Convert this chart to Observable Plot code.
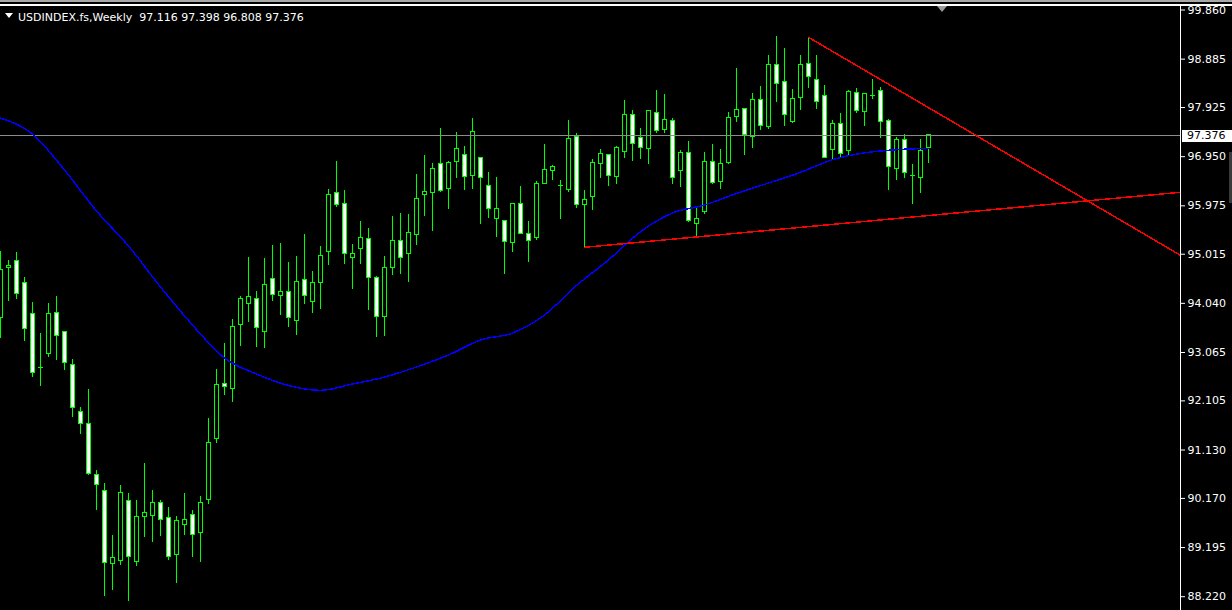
<!DOCTYPE html>
<html><head><meta charset="utf-8">
<script src="https://cdn.jsdelivr.net/npm/d3@7"></script>
<script src="https://cdn.jsdelivr.net/npm/@observablehq/plot@0.6"></script>
<style>
html,body{margin:0;padding:0;background:#000;overflow:hidden;}
#wrap{position:relative;width:1232px;height:610px;background:#000;overflow:hidden;}
#chart{position:absolute;left:0;top:0;}
.ov{position:absolute;}
#hdr{left:18px;top:11px;font:11px/13px "DejaVu Sans";color:#fff;white-space:pre;}
#hdrTri{left:5px;top:13px;width:0;height:0;border-left:4px solid transparent;border-right:4px solid transparent;border-top:5px solid #fff;}
#plabel{left:1182px;width:50px;height:12px;background:#fff;color:#000;font:11px/12px "DejaVu Sans";}
#plabel span{position:absolute;left:5px;top:0;}
</style></head><body>
<div id="wrap">
  <div id="chart"></div>
  <div class="ov" style="left:0;top:0;width:1232px;height:2px;background:#a8a8a8;"></div>
  <div class="ov" style="left:0;top:4px;width:1232px;height:2px;background:#fff;"></div>
  <div class="ov" style="left:1180px;top:4px;width:1px;height:606px;background:#fff;"></div>
  <div class="ov" style="left:937px;top:6px;width:0;height:0;border-left:5px solid transparent;border-right:5px solid transparent;border-top:6px solid #9a9a9a;"></div>
  <div class="ov" style="left:1229px;top:152px;width:3px;height:51px;background:#3a3a3a;"></div>
  <div class="ov" id="hdrTri"></div>
  <div class="ov" id="hdr"></div>
  <div class="ov" id="plabel"><span></span></div>
</div>
<script>
const symbol = "USDINDEX.fs";
const timeframe = "Weekly";

const opens = [
93.743, 94.735, 94.880, 94.443, 93.828, 92.771, 93.041, 93.848, 93.471, 92.816,
91.884, 91.646, 90.628, 90.317, 88.874, 88.934, 90.118, 88.914, 89.807, 89.830,
90.073, 89.775, 89.041, 89.636, 89.834, 89.477, 90.132, 91.342, 92.433, 92.334,
93.604, 94.021, 94.120, 93.465, 94.517, 94.179, 94.259, 93.683, 94.497, 94.060,
94.437, 95.052, 96.223, 96.005, 94.933, 95.112, 95.310, 94.536, 93.763, 94.735,
95.270, 95.013, 95.390, 96.183, 96.223, 96.798, 96.302, 96.838, 96.977, 96.560,
96.917, 96.362, 95.707, 95.667, 95.231, 96.005, 95.409, 95.330, 96.413, 96.659,
96.374, 96.282, 97.334, 95.985, 96.144, 96.798, 96.977, 96.540, 97.036, 97.770,
97.314, 97.096, 97.810, 97.473, 97.651, 96.659, 97.022, 95.608, 95.858, 96.838,
96.441, 96.830, 97.731, 97.890, 97.334, 98.068, 97.532, 98.762, 98.425, 97.632,
98.108, 98.782, 98.465, 98.147, 97.076, 97.592, 97.056, 98.207, 97.830, 98.173,
98.247, 97.651, 96.699, 97.275, 96.572, 96.533, 97.116
];
const highs = [
95.064, 94.900, 95.052, 94.548, 94.066, 93.451, 94.046, 94.185, 93.491, 92.935,
91.983, 92.340, 90.733, 90.475, 89.444, 90.436, 90.277, 90.138, 90.872, 90.336,
90.138, 89.999, 89.821, 90.277, 89.940, 90.217, 91.765, 92.737, 93.253, 93.729,
94.166, 94.959, 94.285, 94.939, 95.197, 95.237, 94.860, 94.979, 95.415, 94.681,
95.177, 96.308, 96.864, 96.288, 95.217, 95.673, 95.534, 94.568, 94.979, 95.773,
95.832, 95.812, 96.606, 96.983, 96.824, 97.518, 96.864, 97.439, 97.161, 97.717,
96.917, 96.640, 96.546, 95.667, 96.025, 96.368, 95.673, 96.461, 97.201, 96.779,
96.487, 97.677, 97.419, 96.282, 96.903, 97.102, 97.003, 97.161, 98.074, 97.876,
97.518, 97.876, 98.272, 98.193, 97.711, 97.082, 97.255, 95.925, 97.036, 97.195,
97.096, 97.830, 98.709, 97.890, 98.213, 98.352, 98.967, 99.344, 99.106, 98.286,
98.967, 99.318, 98.967, 98.366, 97.677, 97.810, 98.259, 98.306, 98.207, 98.485,
98.326, 97.691, 97.334, 97.393, 96.790, 97.300, 97.398
];
const lows = [
93.346, 94.086, 94.126, 93.278, 92.564, 92.386, 92.961, 92.902, 92.717, 91.771,
91.433, 90.634, 89.926, 88.219, 88.339, 88.835, 88.120, 88.815, 89.390, 89.291,
89.410, 88.934, 88.477, 89.430, 88.993, 88.894, 90.045, 91.255, 92.207, 92.068,
93.179, 93.656, 93.160, 93.140, 94.072, 93.795, 93.556, 93.398, 94.013, 93.834,
93.914, 94.787, 95.937, 94.806, 94.310, 94.806, 93.894, 93.358, 93.378, 94.588,
94.608, 94.449, 95.183, 95.759, 95.461, 96.235, 95.898, 96.513, 96.275, 96.294,
95.600, 95.719, 95.342, 94.608, 95.044, 95.409, 94.846, 95.282, 96.394, 96.473,
95.699, 96.235, 95.917, 95.152, 95.878, 96.513, 96.354, 96.394, 96.917, 96.850,
96.890, 96.790, 97.405, 97.405, 96.394, 96.334, 95.640, 95.350, 95.798, 96.394,
96.294, 96.790, 97.624, 96.969, 97.108, 97.465, 97.493, 98.028, 97.552, 97.604,
97.870, 98.306, 97.890, 96.909, 96.876, 96.931, 96.957, 97.816, 97.545, 98.088,
97.314, 96.275, 96.473, 96.513, 95.997, 96.215, 96.808
];
const closes = [
94.701, 94.775, 94.219, 93.537, 92.664, 92.771, 93.828, 93.398, 92.862, 91.969,
91.652, 90.660, 90.430, 88.894, 88.987, 90.271, 89.013, 89.801, 89.874, 90.073,
89.735, 89.001, 89.721, 89.741, 89.438, 90.073, 91.263, 92.414, 92.374, 93.564,
94.120, 94.160, 93.544, 94.398, 94.199, 94.259, 93.743, 94.457, 94.179, 94.437,
94.973, 96.183, 95.985, 95.013, 95.013, 95.330, 94.536, 93.763, 94.735, 95.270,
94.933, 95.429, 96.104, 96.243, 96.699, 96.275, 96.818, 97.096, 96.540, 97.433,
96.533, 95.905, 95.905, 95.251, 96.005, 95.409, 95.270, 96.401, 96.679, 96.739,
96.374, 97.294, 95.985, 96.084, 96.818, 96.997, 96.560, 97.116, 97.770, 97.195,
97.116, 97.856, 97.453, 97.671, 96.533, 97.022, 95.679, 95.707, 96.838, 96.421,
96.798, 97.711, 97.870, 97.374, 98.068, 97.552, 98.762, 98.385, 97.770, 98.088,
98.762, 98.524, 98.028, 96.917, 97.592, 96.997, 98.227, 97.850, 98.187, 98.173,
97.632, 96.745, 97.275, 96.620, 96.572, 97.056, 97.376
];

// moving average (bar index, value)
const maIndex = [0, 4, 8, 12, 16, 20, 24, 28, 32, 36, 40, 44, 48, 52, 56, 60, 64, 68, 72, 76, 80, 84, 88, 92, 96, 100, 104, 108, 112, 116];
const maValues = [97.717, 97.399, 96.685, 95.872, 95.177, 94.364, 93.610, 92.955, 92.638, 92.410, 92.314, 92.439, 92.578, 92.777, 93.015, 93.312, 93.451, 93.808, 94.394, 94.900, 95.461, 95.832, 95.991, 96.219, 96.427, 96.640, 96.890, 97.026, 97.088, 97.116];

// trend lines (bar index, price)
const supportIdx = [73, 147.4375];
const supportPx = [95.152, 96.243];
const resistIdx = [101, 147.4375];
const resistPx = [99.318, 94.999];

const tickValues = [99.860, 98.885, 97.925, 96.950, 95.975, 95.015, 94.040, 93.065, 92.105, 91.130, 90.170, 89.195, 88.220];

const lime = "#00ff00";
const candles = opens.map((o, i) => ({k: i, open: o, high: highs[i], low: lows[i], close: closes[i]}));
const bear = candles.filter(d => d.close < d.open);
const bull = candles.filter(d => d.close > d.open);
const doji = candles.filter(d => d.close === d.open);
const ma = maIndex.map((k, i) => ({k, v: maValues[i]}));
const sup = supportIdx.map((k, i) => ({k, p: supportPx[i]}));
const res = resistIdx.map((k, i) => ({k, p: resistPx[i]}));
const last = closes[closes.length - 1];

const chart = Plot.plot({
  width: 1232, height: 610,
  marginLeft: 0, marginRight: 52, marginTop: 5, marginBottom: 0,
  style: {background: "black", color: "white", fontFamily: "DejaVu Sans", fontSize: "11px"},
  x: {type: "linear", domain: [0, 147.4375], range: [0, 1179.5], axis: null},
  y: {type: "linear", domain: [88.220, 99.860], range: [596.2, 9.5]},
  marks: [
    Plot.ruleX(candles, {x: "k", y1: "low", y2: "high", stroke: lime, shapeRendering: "crispEdges"}),
    Plot.rect(bear, {x1: d => d.k - 0.25, x2: d => d.k + 0.25, y1: "open", y2: "close", fill: "white", stroke: lime, shapeRendering: "crispEdges"}),
    Plot.rect(bull, {x1: d => d.k - 0.25, x2: d => d.k + 0.25, y1: "open", y2: "close", fill: "black", stroke: lime, shapeRendering: "crispEdges"}),
    Plot.ruleY(doji, {y: "open", x1: d => d.k - 0.3125, x2: d => d.k + 0.3125, stroke: lime, shapeRendering: "crispEdges"}),
    Plot.ruleY([last], {stroke: "#8c8c8c", shapeRendering: "crispEdges"}),
    Plot.line(ma, {x: "k", y: "v", stroke: "#0000ff", curve: "monotone-x", shapeRendering: "crispEdges"}),
    Plot.line(sup, {x: "k", y: "p", stroke: "#ff0000", shapeRendering: "crispEdges"}),
    Plot.line(res, {x: "k", y: "p", stroke: "#ff0000", shapeRendering: "crispEdges"}),
    Plot.axisY({anchor: "right", ticks: tickValues, tickFormat: d3.format(".3f"), tickSize: 4, tickPadding: 3, color: "white", fontSize: 11, label: null})
  ]
});
document.getElementById("chart").appendChild(chart);

const f3 = d3.format(".3f");
const n = opens.length - 1;
document.getElementById("hdr").textContent =
  `${symbol},${timeframe}  ${f3(opens[n])} ${f3(highs[n])} ${f3(lows[n])} ${f3(closes[n])}`;
const yPix = chart.scale("y").apply(last) + 0.5;
const pl = document.getElementById("plabel");
pl.style.top = (yPix - 5.5) + "px";
pl.querySelector("span").textContent = f3(last);
</script>
</body></html>
